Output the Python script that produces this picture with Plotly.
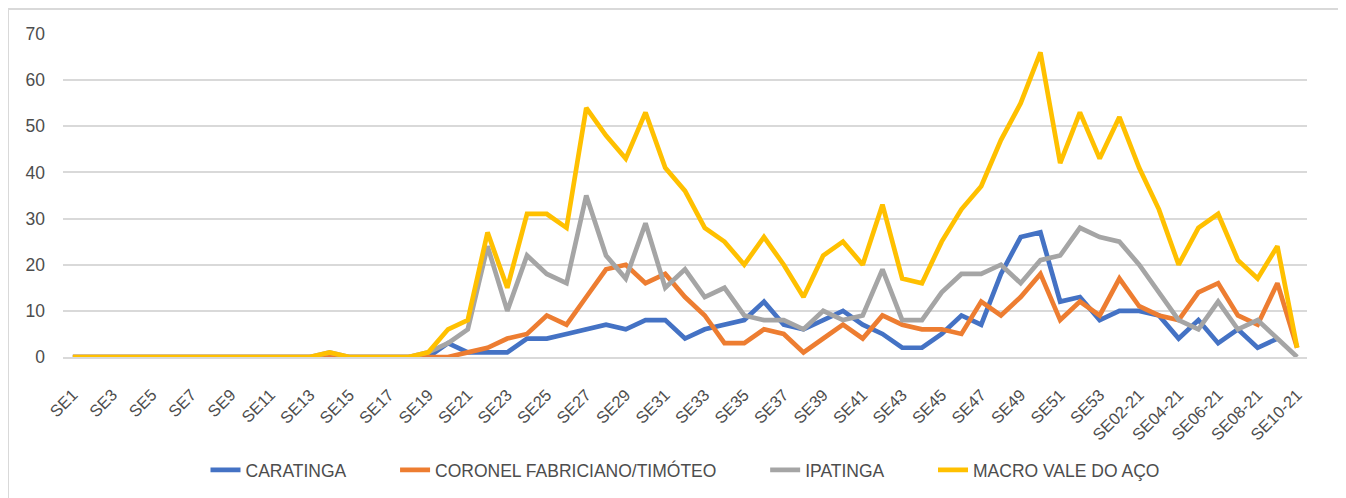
import plotly.graph_objects as go

categories = [f"SE{i}" for i in range(1, 54)] + [f"SE{i:02d}-21" for i in range(1, 11)]

caratinga = [0]*19 + [3, 1, 1, 1, 4, 4, 5, 6, 7, 6, 8, 8, 4, 6, 7, 8, 12, 7, 6, 8, 10,
                      7, 5, 2, 2, 5, 9, 7, 18, 26, 27, 12, 13, 8,
                      10, 10, 9, 4, 8, 3, 6, 2, 4, None]
coronel = [0]*20 + [1, 2, 4, 5, 9, 7, 13, 19, 20, 16, 18, 13, 9, 3, 3, 6, 5, 1, 4, 7,
                    4, 9, 7, 6, 6, 5, 12, 9, 13, 18, 8, 12, 9,
                    17, 11, 9, 8, 14, 16, 9, 7, 16, 2]
ipatinga = [0]*13 + [1] + [0]*4 + [1] + [3, 6, 24, 10, 22, 18, 16, 35, 22, 17, 29, 15, 19, 13,
                                     15, 9, 8, 8, 6, 10, 8, 9, 19, 8, 8, 14, 18, 18, 20, 16,
                                     21, 22, 28, 26, 25, 20, 14, 8, 6, 12, 6, 8, 4, 0]
macro = [0]*13 + [1] + [0]*4 + [1] + [6, 8, 27, 15, 31, 31, 28, 54, 48, 43, 53, 41, 36, 28,
                                  25, 20, 26, 20, 13, 22, 25, 20, 33, 17, 16, 25, 32, 37, 47, 55,
                                  66, 42, 53, 43, 52, 41, 32, 20, 28, 31, 21, 17, 24, 2]

series_names = ["CARATINGA", "CORONEL FABRICIANO/TIMÓTEO", "IPATINGA", "MACRO VALE DO AÇO"]
series_values = [caratinga, coronel, ipatinga, macro]
series_colors = ["#4472C4", "#ED7D31", "#A5A5A5", "#FFC000"]

tick_labels = categories[::2]
y_ticks = list(range(0, 71, 10))

# the page body has an 8px margin, so the figure is drawn 8px in from the window corner
OFF = 8
W, H = 1346 - OFF, 498 - OFF
ML, MR, MT, MB = 63 - OFF, 39, 34 - OFF, 140
PW, PH = W - ML - MR, H - MT - MB

FONT = "Liberation Sans, Arial, sans-serif"
TXT = "#4D4D4D"

fig = go.Figure()
pad = "\u00a0" * 9
for i, (name, vals, col) in enumerate(zip(series_names, series_values, series_colors)):
    label = name + (pad if i < len(series_names) - 1 else "")
    fig.add_trace(go.Scatter(
        x=categories, y=vals, name=label, mode="lines",
        line=dict(color=col, width=4.7), connectgaps=False,
    ))

def px_x(p):
    return (p - OFF - ML) / PW

def px_y(p):
    return (H - MB - (p - OFF)) / PH

fig.update_layout(
    width=W, height=H,
    margin=dict(l=ML, r=MR, t=MT, b=MB),
    paper_bgcolor="white", plot_bgcolor="white",
    font=dict(family=FONT, size=17, color=TXT),
    showlegend=True,
    legend=dict(
        orientation="h", x=px_x(685), xanchor="center",
        y=px_y(470), yanchor="middle",
        font=dict(family=FONT, size=17.5, color=TXT),
        bgcolor="rgba(0,0,0,0)", itemclick=False,
    ),
    xaxis=dict(
        type="category", categoryorder="array", categoryarray=categories,
        range=[-0.5, len(categories) - 0.5],
        tickmode="array", tickvals=tick_labels, ticktext=tick_labels,
        tickangle=-45, showgrid=False, showline=True, linecolor="#D9D9D9", linewidth=1.5,
        ticks="", ticklabelstandoff=20,
        tickfont=dict(family=FONT, size=16.5, color=TXT),
    ),
    yaxis=dict(
        range=[0, 70], tickmode="array", tickvals=y_ticks,
        showgrid=True, gridcolor="#D9D9D9", gridwidth=1.5,
        zeroline=False, showline=False, ticks="", ticklabelstandoff=17,
        tickfont=dict(family=FONT, size=17.5, color=TXT),
    ),
    shapes=[dict(
        type="rect", xref="paper", yref="paper",
        x0=px_x(8), x1=px_x(1339), y0=px_y(520), y1=px_y(9),
        line=dict(color="#D9D9D9", width=2), fillcolor="rgba(0,0,0,0)", layer="below",
    )],
)

fig.write_html("out.html")
